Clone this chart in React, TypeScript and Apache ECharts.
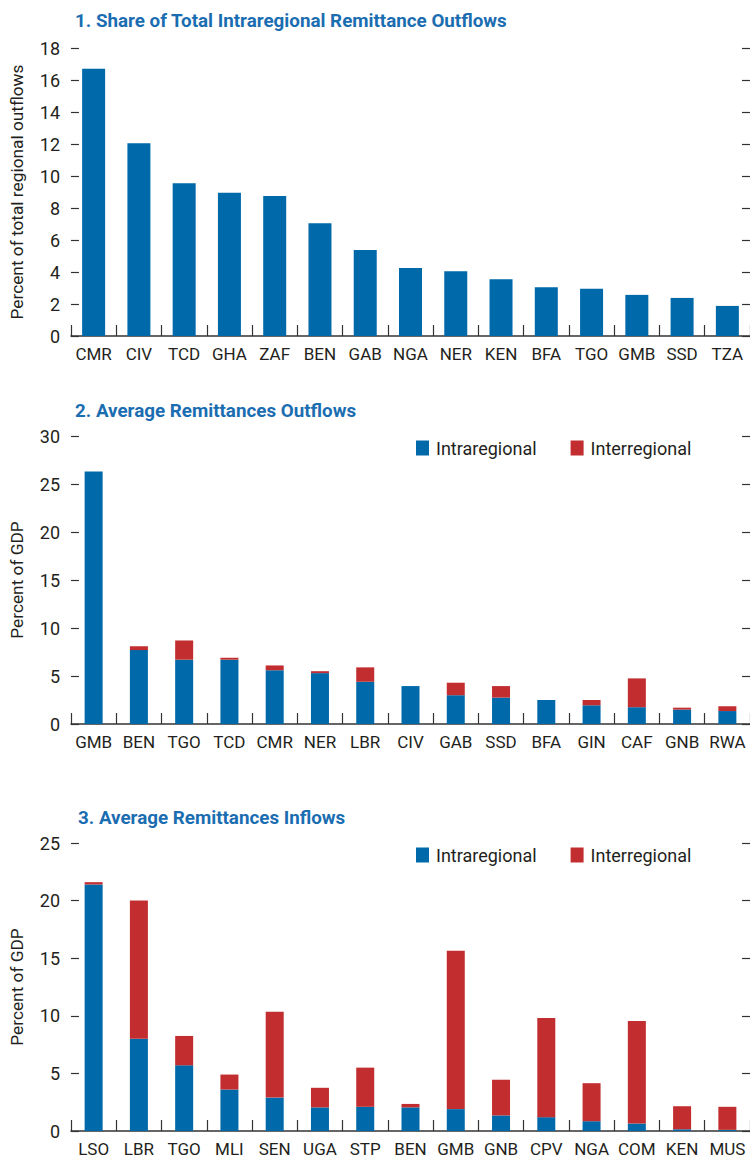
import React, { useEffect, useRef } from "react";
import * as echarts from "echarts";

const cats1 = ["CMR", "CIV", "TCD", "GHA", "ZAF", "BEN", "GAB", "NGA", "NER", "KEN", "BFA", "TGO", "GMB", "SSD", "TZA"];
const share1 = [16.7, 12.05, 9.55, 8.95, 8.75, 7.05, 5.37, 4.25, 4.05, 3.55, 3.05, 2.95, 2.57, 2.38, 1.88];

const cats2 = ["GMB", "BEN", "TGO", "TCD", "CMR", "NER", "LBR", "CIV", "GAB", "SSD", "BFA", "GIN", "CAF", "GNB", "RWA"];
const intra2 = [26.3, 7.7, 6.7, 6.7, 5.6, 5.3, 4.4, 3.95, 3.0, 2.75, 2.5, 1.95, 1.75, 1.5, 1.35];
const inter2 = [0, 0.4, 2.0, 0.2, 0.5, 0.2, 1.5, 0, 1.3, 1.2, 0, 0.55, 3.0, 0.2, 0.5];

const cats3 = ["LSO", "LBR", "TGO", "MLI", "SEN", "UGA", "STP", "BEN", "GMB", "GNB", "CPV", "NGA", "COM", "KEN", "MUS"];
const intra3 = [21.4, 8.0, 5.7, 3.6, 2.9, 2.05, 2.1, 2.05, 1.9, 1.35, 1.2, 0.85, 0.65, 0.15, 0.1];
const inter3 = [0.2, 12.0, 2.55, 1.3, 7.45, 1.7, 3.4, 0.3, 13.75, 3.1, 8.6, 3.3, 8.9, 2.0, 2.0];

const titles = [
  "1. Share of Total Intraregional Remittance Outflows",
  "2. Average Remittances Outflows",
  "3. Average Remittances Inflows",
];
const yNames = ["Percent of total regional outflows", "Percent of GDP", "Percent of GDP"];

const BLUE = "#0069aa";
const RED = "#c22d2f";
const TITLE_BLUE = "#1b6db1";
const TXT = "#231f20";
const FONT = "Roboto, sans-serif";

export default function App() {
  const ref = useRef<HTMLDivElement>(null);
  useEffect(() => {
    if (!ref.current) return;
    const chart = echarts.init(ref.current, null, { renderer: "svg" });
    const grids = [
      { left: 68, right: 0, top: 48, bottom: 1159 - 336 },
      { left: 68, right: 0, top: 436, bottom: 1159 - 724 },
      { left: 68, right: 0, top: 843, bottom: 1159 - 1131 },
    ];
    const scales = [
      { max: 18, interval: 2 },
      { max: 30, interval: 5 },
      { max: 25, interval: 5 },
    ];
    const catsList = [cats1, cats2, cats3];
    const xAxes = catsList.map((c, i) => ({
      type: "category",
      gridIndex: i,
      data: c,
      axisLine: { show: true, lineStyle: { color: "#333", width: 1.5 } },
      axisTick: { show: true, inside: true, length: 11, lineStyle: { color: "#333", width: 1.2 } },
      axisLabel: { color: TXT, fontSize: 17, fontFamily: FONT, margin: 9, interval: 0 },
    }));
    const yAxes: any[] = [];
    scales.forEach((s, i) => {
      yAxes.push({
        type: "value",
        gridIndex: i,
        min: 0,
        max: s.max,
        interval: s.interval,
        position: "left",
        name: yNames[i],
        nameLocation: "middle",
        nameRotate: 90,
        nameGap: 46,
        nameTextStyle: { color: TXT, fontSize: 17.3, fontFamily: FONT },
        axisLine: { show: false },
        axisTick: { show: true, inside: true, length: 8, lineStyle: { color: "#333", width: 1.2 } },
        axisLabel: { color: TXT, fontSize: 18, fontFamily: FONT, margin: 11 },
        splitLine: { show: false },
      });
      yAxes.push({
        type: "value",
        gridIndex: i,
        min: 0,
        max: s.max,
        interval: s.interval,
        position: "right",
        axisLine: { show: false },
        axisTick: { show: true, inside: true, length: 8, lineStyle: { color: "#333", width: 1.2 } },
        axisLabel: { show: false },
        splitLine: { show: false },
      });
    });
    const option: any = {
      animation: false,
      backgroundColor: "#ffffff",
      title: [
        { text: titles[0], left: 75, top: 11 },
        { text: titles[1], left: 75, top: 401 },
        { text: titles[2], left: 78, top: 808 },
      ].map((t) => ({
        ...t,
        padding: 0,
        textStyle: { color: TITLE_BLUE, fontSize: 18.8, fontWeight: "bold", fontFamily: FONT },
      })),
      legend: [
        { top: 434, left: 411 },
        { top: 841, left: 411 },
      ].map((l) => ({
        ...l,
        data: ["Intraregional", "Interregional"],
        itemWidth: 13,
        itemHeight: 15,
        itemGap: 34,
        icon: "rect",
        textStyle: { color: TXT, fontSize: 18, fontFamily: FONT, padding: [0, 0, 0, 2] },
      })),
      grid: grids,
      xAxis: xAxes,
      yAxis: yAxes,
      series: [
        { name: "Share", type: "bar", xAxisIndex: 0, yAxisIndex: 0, data: share1, barWidth: 23, itemStyle: { color: BLUE } },
        { name: "Intraregional", type: "bar", stack: "s2", xAxisIndex: 1, yAxisIndex: 2, data: intra2, barWidth: 18, itemStyle: { color: BLUE } },
        { name: "Interregional", type: "bar", stack: "s2", xAxisIndex: 1, yAxisIndex: 2, data: inter2, barWidth: 18, itemStyle: { color: RED } },
        { name: "Intraregional", type: "bar", stack: "s3", xAxisIndex: 2, yAxisIndex: 4, data: intra3, barWidth: 18, itemStyle: { color: BLUE } },
        { name: "Interregional", type: "bar", stack: "s3", xAxisIndex: 2, yAxisIndex: 4, data: inter3, barWidth: 18, itemStyle: { color: RED } },
      ],
    };
    chart.setOption(option);
    return () => chart.dispose();
  }, []);
  return (
    <div
      ref={ref}
      style={{ position: "absolute", left: 0, top: 0, width: 750, height: 1159, background: "#fff" }}
    />
  );
}
